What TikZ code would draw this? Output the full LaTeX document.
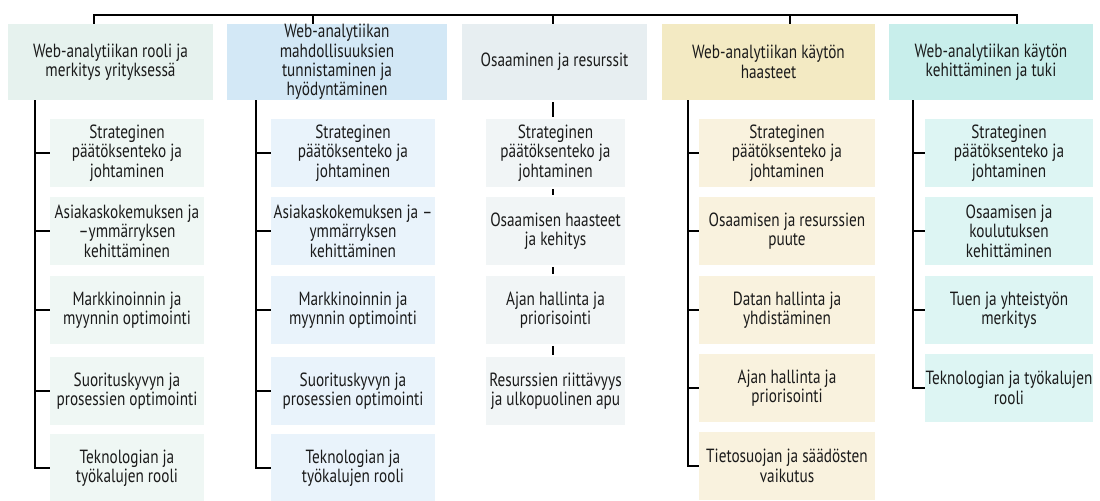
\documentclass[tikz,border=0pt]{standalone}
\usepackage{fontspec}
\setmainfont[FakeStretch=0.80]{PT Sans}
\usetikzlibrary{calc}
\definecolor{txt}{HTML}{1A1A1A}
\definecolor{hA}{HTML}{E6F2EE}\definecolor{cA}{HTML}{EFF7F4}
\definecolor{hB}{HTML}{D3E8F6}\definecolor{cB}{HTML}{E9F3FB}
\definecolor{hC}{HTML}{E7EEF1}\definecolor{cC}{HTML}{F1F5F6}
\definecolor{hD}{HTML}{F3EAC3}\definecolor{cD}{HTML}{F9F2DE}
\definecolor{hE}{HTML}{C8EEEB}\definecolor{cE}{HTML}{DDF5F3}
\tikzset{
  boxtxt/.style={inner sep=0pt, align=center, text=txt, font=\fontsize{14.3}{14.5}\selectfont},
  wh/.style 2 args={minimum width=#1*0.75pt, minimum height=#2*0.75pt},
  link/.style={line width=1.2pt, draw=black},
}
\begin{document}
\begin{tikzpicture}[x=0.75pt,y=-0.75pt]
\useasboundingbox (0,0) rectangle (1100,500);
% headers
\node[boxtxt, fill=hA, wh={205}{76}] (h1) at (110.5,62) {Web-analytiikan rooli ja\\merkitys yrityksessä};
\node[boxtxt, fill=hB, wh={220}{76}] (h2) at (337,62) {Web-analytiikan\\mahdollisuuksien\\tunnistaminen ja\\hyödyntäminen};
\node[boxtxt, fill=hC, wh={185}{76}] (h3) at (554.5,62) {Osaaminen ja resurssit};
\node[boxtxt, fill=hD, wh={213}{76}] (h4) at (768.5,62) {Web-analytiikan käytön\\haasteet};
\node[boxtxt, fill=hE, wh={204}{76}] (h5) at (991,62) {Web-analytiikan käytön\\kehittäminen ja tuki};
% column 1
\node[boxtxt, fill=cA, wh={154}{68}] (c11) at (127,153) {Strateginen\\päätöksenteko ja\\johtaminen};
\node[boxtxt, fill=cA, wh={154}{68}] (c12) at (127,231) {Asiakaskokemuksen ja\\–ymmärryksen\\kehittäminen};
\node[boxtxt, fill=cA, wh={154}{68}] (c13) at (127,310) {Markkinoinnin ja\\myynnin optimointi};
\node[boxtxt, fill=cA, wh={154}{68}] (c14) at (127,391) {Suorituskyvyn ja\\prosessien optimointi};
\node[boxtxt, fill=cA, wh={154}{68}] (c15) at (127,468) {Teknologian ja\\työkalujen rooli};
% column 2
\node[boxtxt, fill=cB, wh={164}{68}] (c21) at (353,153) {Strateginen\\päätöksenteko ja\\johtaminen};
\node[boxtxt, fill=cB, wh={164}{68}] (c22) at (353,231) {Asiakaskokemuksen ja –\\ymmärryksen\\kehittäminen};
\node[boxtxt, fill=cB, wh={164}{68}] (c23) at (353,310) {Markkinoinnin ja\\myynnin optimointi};
\node[boxtxt, fill=cB, wh={164}{68}] (c24) at (353,391) {Suorituskyvyn ja\\prosessien optimointi};
\node[boxtxt, fill=cB, wh={164}{68}] (c25) at (353,468) {Teknologian ja\\työkalujen rooli};
% column 3
\node[boxtxt, fill=cC, wh={139}{68}] (c31) at (555.5,153) {Strateginen\\päätöksenteko ja\\johtaminen};
\node[boxtxt, fill=cC, wh={139}{68}] (c32) at (555.5,231) {Osaamisen haasteet\\ja kehitys};
\node[boxtxt, fill=cC, wh={139}{68}] (c33) at (555.5,310) {Ajan hallinta ja\\priorisointi};
\node[boxtxt, fill=cC, wh={139}{68}] (c34) at (555.5,391) {Resurssien riittävyys\\ja ulkopuolinen apu};
% column 4
\node[boxtxt, fill=cD, wh={176}{68}] (c41) at (787,153) {Strateginen\\päätöksenteko ja\\johtaminen};
\node[boxtxt, fill=cD, wh={176}{68}] (c42) at (787,231) {Osaamisen ja resurssien\\puute};
\node[boxtxt, fill=cD, wh={176}{68}] (c43) at (787,310) {Datan hallinta ja\\yhdistäminen};
\node[boxtxt, fill=cD, wh={176}{68}] (c44) at (787,388) {Ajan hallinta ja\\priorisointi};
\node[boxtxt, fill=cD, wh={176}{68}] (c45) at (787,466) {Tietosuojan ja säädösten\\vaikutus};
% column 5
\node[boxtxt, fill=cE, wh={168}{68}] (c51) at (1009,153) {Strateginen\\päätöksenteko ja\\johtaminen};
\node[boxtxt, fill=cE, wh={168}{68}] (c52) at (1009,231) {Osaamisen ja\\koulutuksen\\kehittäminen};
\node[boxtxt, fill=cE, wh={168}{68}] (c53) at (1009,310) {Tuen ja yhteistyön\\merkitys};
\node[boxtxt, fill=cE, wh={168}{68}] (c54) at (1009,388) {Teknologian ja työkalujen\\rooli};
% top bar
\coordinate (t1) at (94,15);
\coordinate (t2) at (313,15);
\coordinate (t3) at (553,15);
\coordinate (t4) at (790,15);
\coordinate (t5) at (1017,15);
\draw[link] (h1.north -| t1) -- (t1) -- (t5) -- (h5.north -| t5);
\draw[link] (t2) -- (h2.north -| t2);
\draw[link] (t3) -- (h3.north -| t3);
\draw[link] (t4) -- (h4.north -| t4);
% trunks
\coordinate (k1) at (35,0);
\coordinate (k2) at (256,0);
\coordinate (k4) at (688,0);
\coordinate (k5) at (913,0);
\draw[link] (h1.south -| k1) |- (c15.west);
\foreach \i in {1,2,3,4}{\draw[link] (c1\i.west -| k1) -- (c1\i.west);}
\draw[link] (h2.south -| k2) |- (c25.west);
\foreach \i in {1,2,3,4}{\draw[link] (c2\i.west -| k2) -- (c2\i.west);}
\draw[link] (h4.south -| k4) |- (c45.west);
\foreach \i in {1,2,3,4}{\draw[link] (c4\i.west -| k4) -- (c4\i.west);}
\draw[link] (h5.south -| k5) |- (c54.west);
\foreach \i in {1,2,3}{\draw[link] (c5\i.west -| k5) -- (c5\i.west);}
% column 3 chain
\coordinate (k3) at (553,0);
\draw[link, shorten <=1.5pt, shorten >=1.5pt] (h3.south -| k3) -- (c31.north -| k3);
\draw[link, shorten <=1.5pt, shorten >=1.5pt] (c31.south -| k3) -- (c32.north -| k3);
\draw[link, shorten <=1.5pt, shorten >=1.5pt] (c32.south -| k3) -- (c33.north -| k3);
\draw[link, shorten <=1.5pt, shorten >=1.5pt] (c33.south -| k3) -- (c34.north -| k3);
\end{tikzpicture}
\end{document}
